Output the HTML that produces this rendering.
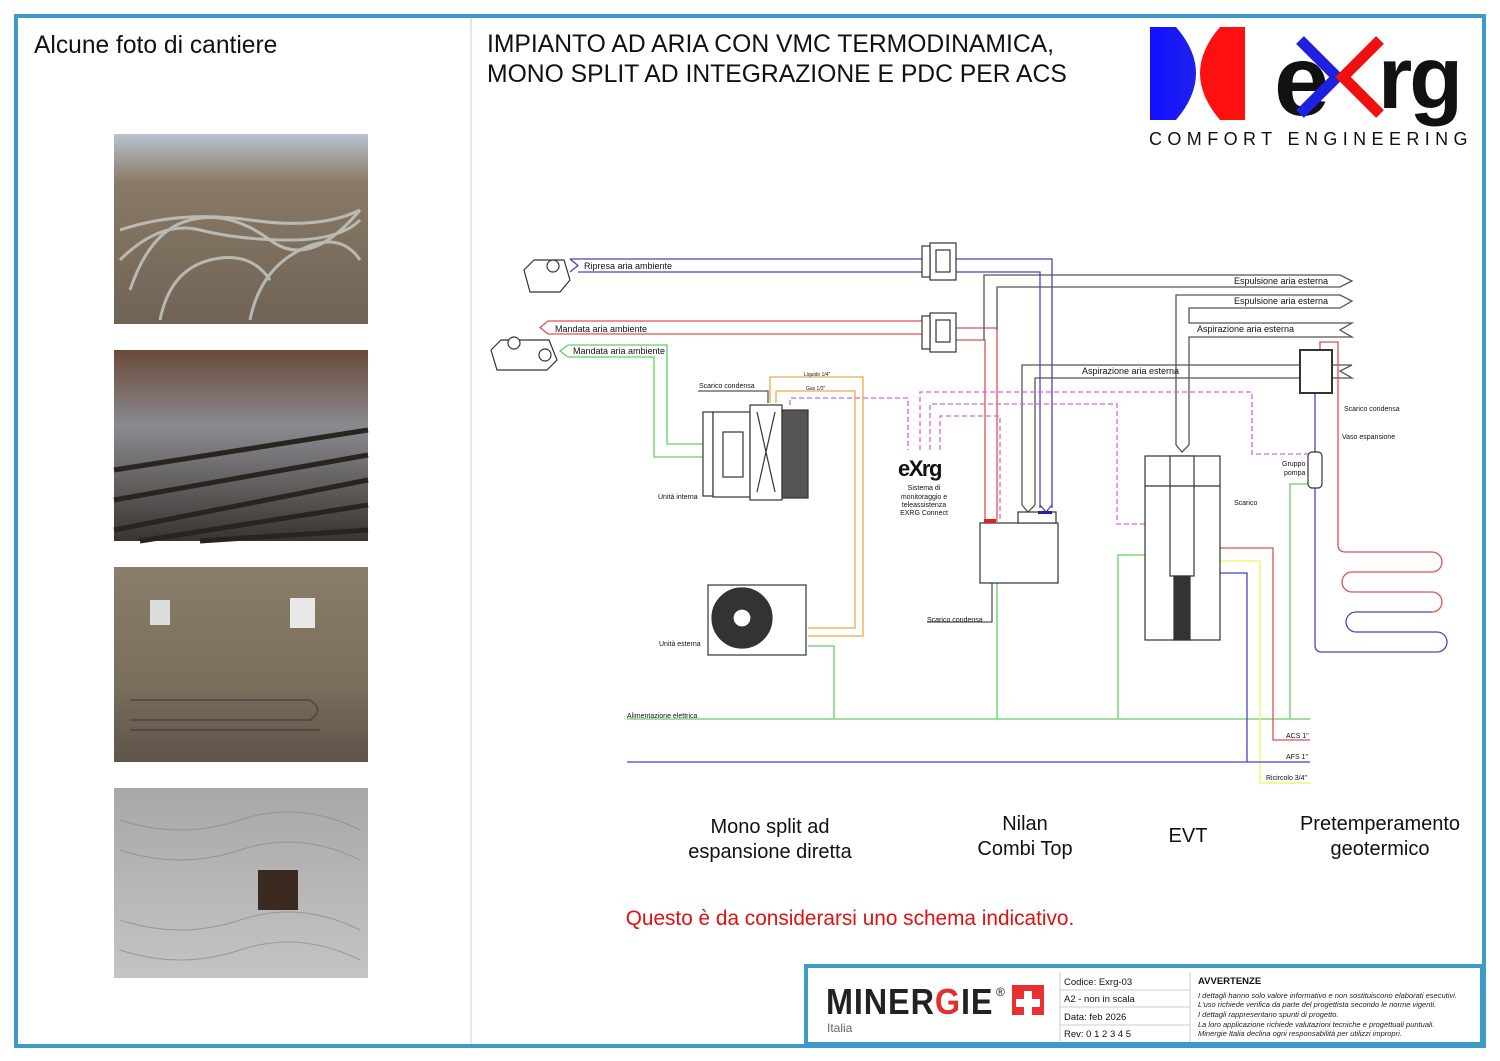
<!DOCTYPE html>
<html><head><meta charset="utf-8"><style>
html,body{margin:0;padding:0;background:#fff;}
body{width:1500px;height:1061px;overflow:hidden;position:relative;font-family:"Liberation Sans",sans-serif;}
</style></head><body>
<svg width="1500" height="1061" viewBox="0 0 1500 1061" xmlns="http://www.w3.org/2000/svg" style="position:absolute;left:0;top:0" font-family="Liberation Sans, sans-serif">
<defs>
<linearGradient id="p1" x1="0" y1="0" x2="0" y2="1"><stop offset="0" stop-color="#b8c4d0"/><stop offset="0.25" stop-color="#8a7a66"/><stop offset="1" stop-color="#6e6355"/></linearGradient>
<linearGradient id="p2" x1="0" y1="0" x2="0" y2="1"><stop offset="0" stop-color="#6a4a3a"/><stop offset="0.4" stop-color="#8a8a90"/><stop offset="1" stop-color="#3a342e"/></linearGradient>
<linearGradient id="p3" x1="0" y1="0" x2="0" y2="1"><stop offset="0" stop-color="#8a7e6a"/><stop offset="0.6" stop-color="#7a6e5c"/><stop offset="1" stop-color="#5e5448"/></linearGradient>
<linearGradient id="p4" x1="0" y1="0" x2="0" y2="1"><stop offset="0" stop-color="#a8a8a8"/><stop offset="1" stop-color="#c4c4c4"/></linearGradient>
<linearGradient id="lg" x1="0" y1="0" x2="1" y2="0"><stop offset="0" stop-color="#1010ff"/><stop offset="0.48" stop-color="#2020f0"/><stop offset="0.52" stop-color="#ff1010"/><stop offset="1" stop-color="#ff1010"/></linearGradient>
</defs>
<rect x="16" y="16" width="1468" height="1030" fill="none" stroke="#3d9bc5" stroke-width="4"/>
<line x1="471" y1="18" x2="471" y2="1044" stroke="#cfe3ef" stroke-width="1.5"/>
<text x="34" y="53" font-size="24.6" fill="#111">Alcune foto di cantiere</text>
<text x="487" y="52" font-size="24.7" fill="#111">IMPIANTO AD ARIA CON VMC TERMODINAMICA,</text>
<text x="487" y="82" font-size="24.7" fill="#111">MONO SPLIT AD INTEGRAZIONE E PDC PER ACS</text>
<rect x="114" y="134" width="254" height="190" fill="url(#p1)"/>
<g fill="none" stroke="#c8ccc8" stroke-width="3" opacity="0.8">
<path d="M130 290 q20 -60 60 -70 t80 20 t90 -30"/><path d="M120 260 q40 -40 80 -30 t90 10 t70 -20"/><path d="M160 320 q10 -50 50 -60 t60 20"/><path d="M250 320 q10 -50 50 -70 t60 10"/><path d="M120 230 q60 -20 130 -10 t110 -10"/>
</g>
<rect x="114" y="350" width="254" height="191" fill="url(#p2)"/>
<g stroke="#2a2420" stroke-width="5"><line x1="114" y1="470" x2="368" y2="430"/><line x1="114" y1="500" x2="368" y2="455"/><line x1="114" y1="530" x2="368" y2="480"/><line x1="140" y1="541" x2="368" y2="505"/><line x1="200" y1="541" x2="368" y2="530"/></g>
<rect x="114" y="567" width="254" height="195" fill="url(#p3)"/>
<rect x="150" y="600" width="20" height="25" fill="#ddd"/><rect x="290" y="598" width="25" height="30" fill="#e8e8e8"/>
<g fill="none" stroke="#444" stroke-width="2" opacity="0.7"><path d="M130 700 h180 q15 10 0 20 h-180"/><path d="M130 730 h190"/></g>
<rect x="114" y="788" width="254" height="190" fill="url(#p4)"/>
<rect x="258" y="870" width="40" height="40" fill="#3a2a20"/>
<g fill="none" stroke="#888" stroke-width="1" opacity="0.7"><path d="M120 820 q60 20 120 0 t120 10"/><path d="M120 850 q60 20 120 0 t120 10"/><path d="M120 920 q60 20 120 0 t120 10"/><path d="M120 950 q60 20 120 0 t120 10"/></g>
<rect x="1150" y="27" width="95" height="93" fill="url(#lg)"/>
<path d="M1176 27 H1220 Q1180 73 1220 120 H1176 Q1216 73 1176 27 Z" fill="#fff"/>
<text x="1274" y="115" font-size="100" font-weight="bold" fill="#111">e</text>
<polyline points="1300,40 1337,77 1300,114" fill="none" stroke="#2020e0" stroke-width="11"/>
<polyline points="1380,40 1343,77 1380,114" fill="none" stroke="#f01010" stroke-width="11"/>
<text x="1378" y="108" font-size="88" font-weight="bold" fill="#111" letter-spacing="-3">rg</text>
<text x="1149" y="145" font-size="18" fill="#111" letter-spacing="5.4">COMFORT ENGINEERING</text>

<g fill="none" stroke-width="1.3">
<path d="M570 259 H922 M578 272 H922 M570 259 L578 265.5 L570 272" stroke="#4545c8"/>
<path d="M956 259 H1052 V508 M956 272 H1040 V508" stroke="#4545c8"/>
<path d="M548 321 H922 M548 334 H922 M548 321 L540 327.5 L548 334" stroke="#e05050"/>
<path d="M956 328 H997 V522 M956 340 H985 V522" stroke="#e05050"/>
<path d="M568 345 H667 V444 H703 M568 357 H654 V457 H703 M568 345 L560 351 L568 357" stroke="#60d060"/>
<g stroke="#555">
<path d="M984 340 V275 H1340 L1352 281 L1340 287 H997 V330"/>
<path d="M1176 445 V295 H1340 L1352 301 L1340 308 H1189 V323 H1352 L1340 330 L1352 337 H1189 V445"/>
<path d="M1176 445 L1182 452 L1189 445"/>
<path d="M1022 505 V365 H1300 M1035 505 V378 H1300 M1332 365 H1352 L1340 371 L1352 378 H1332"/>
<path d="M1022 505 L1028 512 L1035 505 M1040 505 L1046 512 L1052 505"/>
<path d="M992 583 V622 H927"/>
<path d="M698 391 H768 V403"/>
</g>
<path d="M770 403 V377 H863 V636 H808 M776 403 V391 H855 V628 H808" stroke="#f0a848"/>
<g stroke="#e060e0" stroke-dasharray="5,3">
<path d="M790 405 V398 H908 V450"/>
<path d="M920 450 V392 H1252 V454 H1312"/>
<path d="M930 450 V404 H1117 V524 H1145"/>
<path d="M940 450 V416 H1000 V520"/>
</g>
<g stroke="#60d060">
<path d="M627 719 H1310"/>
<path d="M808 646 H834 V719 M997 583 V719 M1145 555 H1118 V719 M1310 484 H1290 V719"/>
</g>
<path d="M1220 548 H1273 V740 H1310" stroke="#e05050"/>
<path d="M1220 561 H1260 V783 H1310" stroke="#f0f060"/>
<path d="M1220 573 H1247 V762 M627 762 H1310" stroke="#4545c8"/>
<path d="M1320 350 V342 H1338 V545 q0 7 8 7 H1432 a10 10 0 0 1 0 20 H1352 a10 10 0 0 0 0 20 H1432 a10 10 0 0 1 0 20" stroke="#e05050"/>
<path d="M1432 612 H1356 a10 10 0 0 0 0 20 H1437 a10 10 0 0 1 0 20 H1322 q-7 0 -7 -7 V393" stroke="#4545c8"/>
</g>
<g fill="#fff" stroke="#333" stroke-width="1.2">
<path d="M524 270 l10 -10 h30 l6 20 l-10 12 h-30z"/><circle cx="553" cy="266" r="6"/>
<path d="M491 350 l10 -10 h48 l8 20 l-10 10 h-50z"/><circle cx="514" cy="343" r="6"/><circle cx="545" cy="355" r="6"/>
<rect x="930" y="243" width="26" height="37"/><rect x="936" y="250" width="14" height="22"/><rect x="922" y="246" width="8" height="31"/>
<rect x="930" y="313" width="26" height="39"/><rect x="936" y="320" width="14" height="22"/><rect x="922" y="316" width="8" height="33"/>
<rect x="703" y="412" width="10" height="84"/><rect x="713" y="412" width="37" height="85"/><rect x="723" y="432" width="20" height="45"/>
<rect x="750" y="405" width="32" height="95"/><path d="M757 412 L775 492 M775 412 L757 492"/>
<rect x="782" y="410" width="26" height="88" fill="#555"/>
<rect x="708" y="585" width="98" height="70"/>
<circle cx="742" cy="618" r="30" fill="#333"/><circle cx="742" cy="618" r="9" fill="#fff"/>
<rect x="980" y="523" width="78" height="60"/><rect x="1018" y="512" width="38" height="11"/>
<rect x="984" y="519" width="12" height="4" fill="#e02020" stroke="none"/><rect x="1038" y="511" width="14" height="3" fill="#2020c0" stroke="none"/>
<rect x="1145" y="456" width="75" height="184"/><rect x="1170" y="456" width="24" height="120"/><rect x="1174" y="576" width="16" height="64" fill="#333"/>
<line x1="1145" y1="486" x2="1220" y2="486"/>
<rect x="1300" y="350" width="32" height="43" stroke-width="2"/>
<rect x="1308" y="452" width="14" height="36" rx="4"/>
</g>
<g fill="#111" font-size="7">
<text x="584" y="269" font-size="9">Ripresa aria ambiente</text>
<text x="555" y="332" font-size="9">Mandata aria ambiente</text>
<text x="573" y="354" font-size="9">Mandata aria ambiente</text>
<text x="699" y="388">Scarico condensa</text>
<text x="804" y="376" font-size="5">Liquido 1/4"</text>
<text x="806" y="390" font-size="5">Gas 1/2"</text>
<text x="658" y="499">Unità interna</text>
<text x="659" y="646">Unità esterna</text>
<text x="927" y="622">Scarico condensa</text>
<text x="627" y="718">Alimentazione elettrica</text>
<text x="1234" y="284" font-size="9">Espulsione aria esterna</text>
<text x="1234" y="304" font-size="9">Espulsione aria esterna</text>
<text x="1197" y="332" font-size="9">Aspirazione aria esterna</text>
<text x="1082" y="374" font-size="9">Aspirazione aria esterna</text>
<text x="1344" y="411">Scarico condensa</text>
<text x="1342" y="439">Vaso espansione</text>
<text x="1282" y="466">Gruppo</text><text x="1284" y="475">pompa</text>
<text x="1234" y="505">Scarico</text>
<text x="1286" y="738">ACS  1"</text>
<text x="1286" y="759">AFS  1"</text>
<text x="1266" y="780">Ricircolo  3/4"</text>
<text x="898" y="476" font-size="22" font-weight="bold" letter-spacing="-1.5">eXrg</text>
<text x="924" y="490" text-anchor="middle">Sistema di</text>
<text x="924" y="499" text-anchor="middle">monitoraggio e</text>
<text x="924" y="507" text-anchor="middle">teleassistenza</text>
<text x="924" y="515" text-anchor="middle">EXRG Connect</text>
</g>
<g font-size="20" fill="#111" text-anchor="middle">
<text x="770" y="833">Mono split ad</text><text x="770" y="858">espansione diretta</text>
<text x="1025" y="830">Nilan</text><text x="1025" y="855">Combi Top</text>
<text x="1188" y="842">EVT</text>
<text x="1380" y="830">Pretemperamento</text><text x="1380" y="855">geotermico</text>
</g>
<text x="850" y="925" font-size="20.8" fill="#e01010" text-anchor="middle">Questo è da considerarsi uno schema indicativo.</text>
<rect x="806" y="966" width="676" height="78" fill="#fff" stroke="#3d9bc5" stroke-width="4"/>
<text x="826" y="1014" font-size="36" font-weight="bold" fill="#222" letter-spacing="1" transform="scale(0.9,1)" style="transform-origin:826px 1014px">MINER<tspan fill="#e03030">G</tspan>IE</text>
<text x="996" y="996" font-size="12" fill="#222">®</text>
<rect x="1012" y="985" width="32" height="30" fill="#e83030"/>
<path d="M1024 991 h8 v8 h8 v8 h-8 v8 h-8 v-8 h-8 v-8 h8z" fill="#fff"/>
<text x="827" y="1032" font-size="12" fill="#666">Italia</text>
<g stroke="#ccc" stroke-width="1" fill="none">
<line x1="1060" y1="972" x2="1060" y2="1042"/><line x1="1190" y1="972" x2="1190" y2="1042"/>
<line x1="1060" y1="990" x2="1190" y2="990"/><line x1="1060" y1="1007" x2="1190" y2="1007"/><line x1="1060" y1="1025" x2="1190" y2="1025"/>
</g>
<g font-size="9.5" fill="#111">
<text x="1064" y="985">Codice:  Exrg-03</text>
<text x="1064" y="1002">A2 - non in scala</text>
<text x="1064" y="1020">Data:  feb 2026</text>
<text x="1064" y="1037">Rev:  0    1    2    3    4    5</text>
<text x="1198" y="984" font-weight="bold">AVVERTENZE</text>
</g>
<g font-size="7.5" fill="#222" font-style="italic">
<text x="1198" y="998">I dettagli hanno solo valore informativo e non sostituiscono elaborati esecutivi.</text>
<text x="1198" y="1007">L'uso richiede verifica da parte del progettista secondo le norme vigenti.</text>
<text x="1198" y="1017">I dettagli rappresentano spunti di progetto.</text>
<text x="1198" y="1027">La loro applicazione richiede valutazioni tecniche e progettuali puntuali.</text>
<text x="1198" y="1036">Minergie Italia declina ogni responsabilità per utilizzi impropri.</text>
</g>
</svg>
</body></html>
